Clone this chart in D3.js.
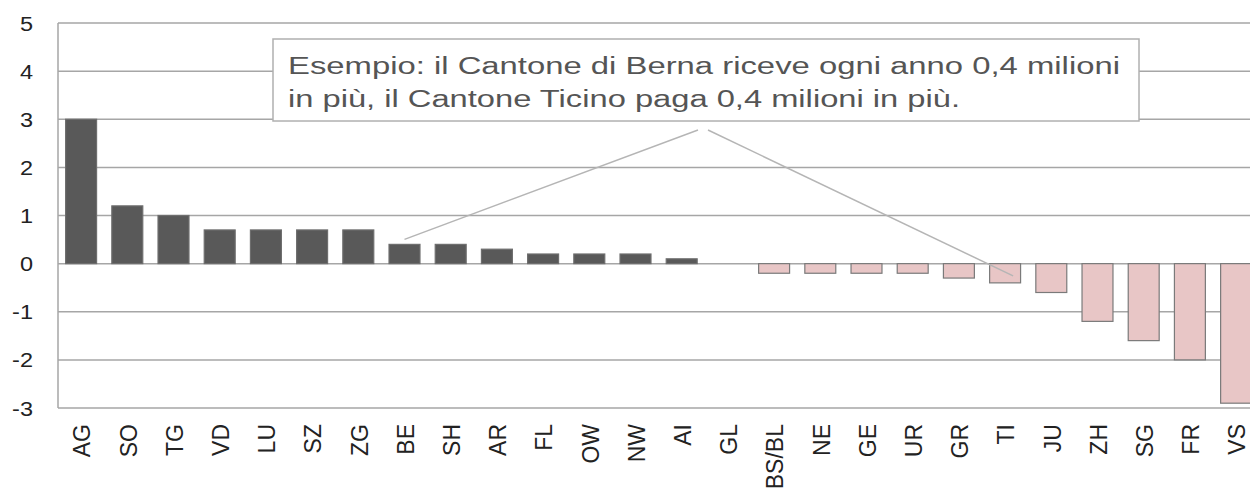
<!DOCTYPE html>
<html>
<head>
<meta charset="utf-8">
<script src="https://cdn.jsdelivr.net/npm/d3@7"></script>
<style>
  html, body { margin: 0; padding: 0; background: #fff; overflow: hidden; }
  svg { display: block; font-family: "Liberation Sans", Arial, sans-serif; }
</style>
</head>
<body>
<svg id="chart" width="1250" height="488"></svg>
<script>
// Cantons and the yearly change (millions)
let cantons = ["AG", "SO", "TG", "VD", "LU", "SZ", "ZG", "BE", "SH", "AR", "FL", "OW", "NW",
               "AI", "GL", "BS/BL", "NE", "GE", "UR", "GR", "TI", "JU", "ZH", "SG", "FR", "VS"];
let values = [3, 1.2, 1.0, 0.7, 0.7, 0.7, 0.7, 0.4, 0.4, 0.3, 0.2, 0.2, 0.2,
              0.1, 0, -0.2, -0.2, -0.2, -0.2, -0.3, -0.4, -0.6, -1.2, -1.6, -2.0, -2.9];
let yTicks = [5, 4, 3, 2, 1, 0, -1, -2, -3];
let noteLines = ["Esempio: il Cantone di Berna riceve ogni anno 0,4 milioni",
                 "in più, il Cantone Ticino paga 0,4 milioni in più."];

let svg = d3.select("#chart");

let x = d3.scaleBand().domain(cantons).range([58, 58 + 26 * 46.2]).paddingInner(0.33).paddingOuter(0.165);
let y = d3.scaleLinear().domain([-3, 5]).range([408, 23]);

// grid lines
svg.append("g")
  .selectAll("line")
  .data(yTicks)
  .join("line")
  .attr("x1", 58).attr("x2", 1250)
  .attr("y1", d => y(d)).attr("y2", d => y(d))
  .attr("stroke", "#a6a6a6").attr("stroke-width", 1.5);

// left axis line
svg.append("line")
  .attr("x1", 58).attr("x2", 58)
  .attr("y1", y(5)).attr("y2", y(-3))
  .attr("stroke", "#a6a6a6").attr("stroke-width", 1.5);

// y tick labels (slightly widened like the original)
svg.append("g")
  .selectAll("text")
  .data(yTicks)
  .join("text")
  .attr("transform", d => `translate(33,${y(d)}) scale(1.12,1)`)
  .attr("dy", "0.36em")
  .attr("text-anchor", "end")
  .attr("font-size", 21)
  .attr("fill", "#222")
  .text(d => d);

// bars
svg.append("g")
  .selectAll("rect")
  .data(values)
  .join("rect")
  .attr("x", (d, i) => x(cantons[i]))
  .attr("width", x.bandwidth())
  .attr("y", d => y(Math.max(0, d)))
  .attr("height", d => Math.abs(y(d) - y(0)))
  .attr("fill", d => d >= 0 ? "#595959" : "#e8c6c6")
  .attr("stroke", d => d >= 0 ? "#6e6e6e" : "#7a7a7a")
  .attr("stroke-width", 1.2);

// category labels
svg.append("g")
  .selectAll("text")
  .data(cantons)
  .join("text")
  .attr("transform", d => `translate(${x(d) + x.bandwidth() / 2 + 1},424) rotate(-90)`)
  .attr("dy", "0.36em")
  .attr("text-anchor", "end")
  .attr("font-size", 23)
  .attr("fill", "#222")
  .text(d => d);

// callout lines
let iBE = cantons.indexOf("BE"), iTI = cantons.indexOf("TI");
let lineColor = "#b5b5b5";
svg.append("line")
  .attr("x1", x("BE") + x.bandwidth() / 2).attr("y1", y(values[iBE]) - 5)
  .attr("x2", 698).attr("y2", 130)
  .attr("stroke", lineColor).attr("stroke-width", 1.5);
svg.append("line")
  .attr("x1", 708).attr("y1", 130)
  .attr("x2", x("TI") + x.bandwidth() / 2 + 8).attr("y2", y(values[iTI]) - 7)
  .attr("stroke", lineColor).attr("stroke-width", 1.5);

// note box
svg.append("rect")
  .attr("x", 273).attr("y", 39)
  .attr("width", 866).attr("height", 82)
  .attr("fill", "#fff")
  .attr("stroke", "#b0b0b0").attr("stroke-width", 1.5);

let noteWidths = [832, 672];
svg.append("g")
  .selectAll("text")
  .data(noteLines)
  .join("text")
  .attr("x", 288)
  .attr("y", (d, i) => 74 + i * 33)
  .attr("font-size", 23)
  .attr("fill", "#555")
  .attr("textLength", (d, i) => noteWidths[i])
  .attr("lengthAdjust", "spacingAndGlyphs")
  .text(d => d);
</script>
</body>
</html>
